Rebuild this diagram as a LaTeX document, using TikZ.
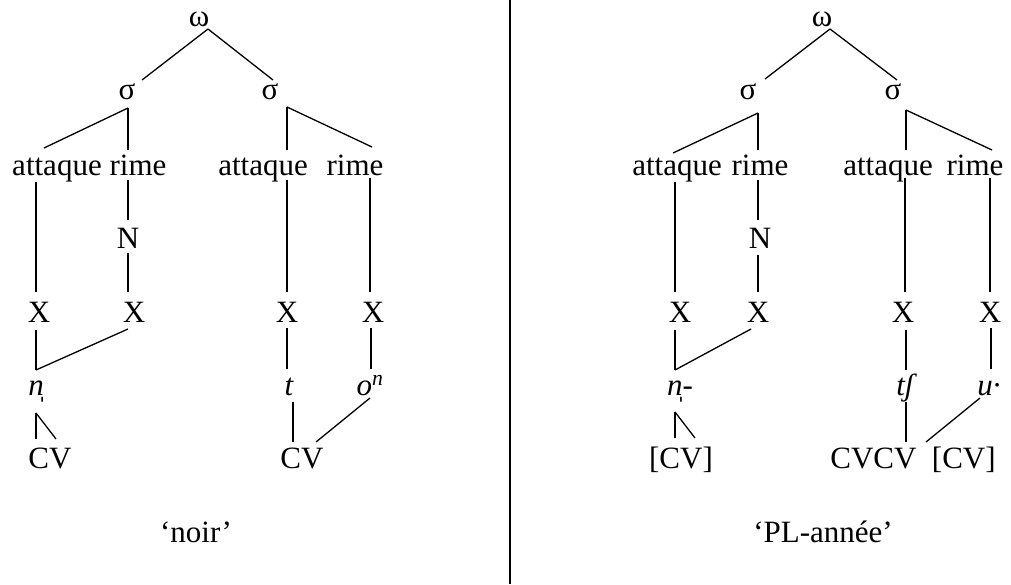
\documentclass[tikz,border=0pt]{standalone}
\usepackage{fontspec}
\setmainfont{Liberation Serif}
\usetikzlibrary{calc}
\tikzset{
  lbl/.style={font=\fontsize{31}{37}\selectfont, inner sep=0pt, anchor=base},
  lnk/.style={line width=1.3pt, line cap=butt},
}
\newcommand{\lk}[4]{\draw[lnk] ($(#1.base)+(#2)$) -- ($(#3.base)+(#4)$);}
\begin{document}
\begin{tikzpicture}[x=1pt,y=-1pt]
\useasboundingbox (0,0) rectangle (1011,584);
% divider
\coordinate (dtop) at (510,0);
\coordinate (dbot) at (510,584);
\draw[line width=2pt] (dtop) -- (dbot);
% ---------- left tree ----------
\node[lbl] (wL) at (199,26) {ω};
\node[lbl] (s1L) at (127,99) {σ};
\node[lbl] (s2L) at (270,99) {σ};
\node[lbl] (a1L) at (57,175) {attaque};
\node[lbl] (r1L) at (138,175) {rime};
\node[lbl] (a2L) at (263,175) {attaque};
\node[lbl] (r2L) at (355,175) {rime};
\node[lbl] (NL) at (128,248) {N};
\node[lbl] (x1L) at (39,322) {X};
\node[lbl] (x2L) at (134,322) {X};
\node[lbl] (x3L) at (287,322) {X};
\node[lbl] (x4L) at (373,322) {X};
\node[lbl] (nL) at (36,395) {\itshape n̩};
\node[lbl] (tL) at (289,395) {\itshape t};
\node[lbl] (oL) at (370,395) {\itshape o\textsuperscript{n}};
\node[lbl] (cvL) at (50,468) {CV};
\node[lbl] (cvR) at (302,468) {CV};
\node[lbl] (capL) at (196,542) {‘noir’};
\lk{wL}{9,3}{s1L}{15,-19}
\lk{wL}{9,3}{s2L}{3,-19}
\lk{s1L}{1,9}{a1L}{-13,-27}
\lk{s1L}{1,9}{r1L}{-10,-25}
\lk{s2L}{17,8}{a2L}{24,-25}
\lk{s2L}{17,8}{r2L}{17,-28}
\lk{a1L}{-21,7}{x1L}{-3,-30}
\lk{r1L}{-10,5}{NL}{0,-28}
\lk{NL}{0,5}{x2L}{-6,-30}
\lk{a2L}{24,5}{x3L}{0,-30}
\lk{r2L}{15,3}{x4L}{-3,-30}
\lk{x1L}{-3,8}{nL}{0,-25}
\lk{x2L}{-6,7}{nL}{0,-25}
\lk{nL}{0,18}{cvL}{-14,-29}
\lk{nL}{0,18}{cvL}{6,-29}
\lk{x3L}{0,6}{tL}{-2,-26}
\lk{tL}{4,7}{cvR}{-9,-26}
\lk{x4L}{-2,6}{oL}{1,-26}
\lk{oL}{0,3}{cvR}{14,-26}
% ---------- right tree ----------
\node[lbl] (wR) at (822,26) {ω};
\node[lbl] (s1R) at (748,99) {σ};
\node[lbl] (s2R) at (893,99) {σ};
\node[lbl] (a1R) at (677,175) {attaque};
\node[lbl] (r1R) at (760,175) {rime};
\node[lbl] (a2R) at (888,175) {attaque};
\node[lbl] (r2R) at (975,175) {rime};
\node[lbl] (NR) at (760,248) {N};
\node[lbl] (x1R) at (680,322) {X};
\node[lbl] (x2R) at (758,322) {X};
\node[lbl] (x3R) at (903,322) {X};
\node[lbl] (x4R) at (990,322) {X};
\node[lbl] (nR) at (680,395) {\itshape n̩-};
\node[lbl] (tshR) at (905,395) {\itshape tʃ};
\node[lbl] (uR) at (989,395) {\itshape u·};
\node[lbl] (cvbR) at (681,468) {[CV]};
\node[lbl] (cvcvR) at (913,468) {CVCV\enspace[CV]};
\node[lbl] (capR) at (823,542) {‘PL-année’};
\lk{wR}{8,3}{s1R}{17,-20}
\lk{wR}{8,3}{s2R}{4,-19}
\lk{s1R}{10,14}{a1R}{-4,-22}
\lk{s1R}{10,14}{r1R}{-2,-25}
\lk{s2R}{13,11}{a2R}{18,-25}
\lk{s2R}{13,11}{r2R}{17,-25}
\lk{a1R}{-2,7}{x1R}{-5,-30}
\lk{r1R}{-2,5}{NR}{-2,-28}
\lk{NR}{-2,7}{x2R}{0,-30}
\lk{a2R}{17,3}{x3R}{2,-30}
\lk{r2R}{15,3}{x4R}{0,-30}
\lk{x1R}{-5,8}{nR}{-5,-25}
\lk{x2R}{-7,7}{nR}{-5,-25}
\lk{nR}{-5,17}{cvbR}{-6,-30}
\lk{nR}{-5,17}{cvbR}{14,-30}
\lk{x3R}{3,8}{tshR}{1,-25}
\lk{tshR}{1,7}{cvcvR}{-7,-26}
\lk{x4R}{1,6}{uR}{2,-26}
\lk{uR}{-9,3}{cvcvR}{13,-26}
\end{tikzpicture}
\end{document}
